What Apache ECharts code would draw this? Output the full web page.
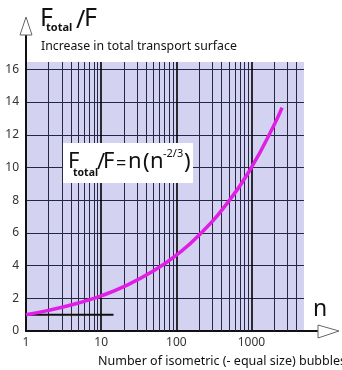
<!DOCTYPE html>
<html><head><meta charset="utf-8">
<script src="https://cdn.jsdelivr.net/npm/echarts@6/dist/echarts.min.js"></script>
<style>html,body{margin:0;padding:0;background:#fff}#c{width:342px;height:370px}</style>
</head><body><div id="c"></div>
<script>
// Data
var curveN     = [1, 2, 5, 10, 20, 50, 100, 200, 500, 1000, 2000, 2550];
var curveRatio = [1, 1.26, 1.71, 2.15, 2.71, 3.68, 4.64, 5.85, 7.94, 10, 12.6, 13.66];
var refLineN     = [1, 14.6];
var refLineRatio = [1, 1];
var yTicks = [0, 2, 4, 6, 8, 10, 12, 14, 16];
var xTickLabels = [1, 10, 100, 1000];

var FONT = 'Noto Sans';
var curve = curveN.map(function (n, i) { return [n, curveRatio[i]]; });
var refLine = refLineN.map(function (n, i) { return [n, refLineRatio[i]]; });

// minor vertical grid lines (2..9 per decade)
var minor = [];
for (var d = 1; d <= 1000; d *= 10) {
  for (var k = 2; k <= 9; k++) { if (k * d < 5000) minor.push({ xAxis: k * d }); }
}

function txt(x, y, s, font, z) {
  return { type: 'text', z: z || 10, style: { x: x, y: y, text: s, font: font, fill: '#111', verticalAlign: 'middle', align: 'left' } };
}
var BIG = '22px "' + FONT + '"';

var chart = echarts.init(document.getElementById('c'));
chart.setOption({
  animation: false,
  grid: { left: 26, right: 38, top: 62, bottom: 39, show: true, backgroundColor: '#d3d3f1', borderWidth: 0 },
  xAxis: {
    type: 'log', logBase: 10, min: 1, max: 5000,
    axisLine: { show: true, lineStyle: { color: '#111', width: 2 } },
    axisTick: { show: false },
    axisLabel: { show: true, color: '#333', fontSize: 12, fontFamily: FONT, margin: 6,
      showMaxLabel: false,
      formatter: function (v) { return xTickLabels.indexOf(Math.round(v)) >= 0 ? String(Math.round(v)) : ''; } },
    splitLine: { show: true, showMaxLine: false, lineStyle: { color: '#000', width: 1.6 } }
  },
  yAxis: {
    type: 'value', min: 0, max: 16.45, interval: 2,
    axisLine: { show: true, lineStyle: { color: '#111', width: 2 } },
    axisTick: { show: false },
    axisLabel: { color: '#333', fontSize: 12, fontFamily: FONT, margin: 7, showMaxLabel: false,
      formatter: function (v) { return yTicks.indexOf(v) >= 0 ? String(v) : ''; } },
    splitLine: { show: true, showMaxLine: false, lineStyle: { color: '#262646', width: 1 } }
  },
  series: [
    {
      type: 'line', data: refLine, symbol: 'none', z: 3,
      lineStyle: { color: '#111', width: 2 },
      markLine: { silent: true, symbol: ['none', 'none'], label: { show: false },
        lineStyle: { color: '#262646', width: 1, type: 'solid' }, data: minor, z: 1 }
    },
    {
      type: 'line', data: curve, symbol: 'none', smooth: true, z: 5,
      lineStyle: { color: '#e01ee6', width: 3.5 }
    }
  ],
  graphic: [
    // axis extensions and open arrows
    { type: 'line', shape: { x1: 26, y1: 62, x2: 26, y2: 35 }, style: { stroke: '#111', lineWidth: 2 } },
    { type: 'polygon', shape: { points: [[26, 17], [20, 35], [32, 35]] }, style: { fill: '#fff', stroke: '#666', lineWidth: 1 } },
    { type: 'line', shape: { x1: 304, y1: 331, x2: 318, y2: 331 }, style: { stroke: '#111', lineWidth: 2 } },
    { type: 'polygon', shape: { points: [[339, 331], [318, 325], [318, 338]] }, style: { fill: '#fff', stroke: '#666', lineWidth: 1 } },
    // y title
    txt(40, 19, 'F', '25px "' + FONT + '"'),
    txt(46, 28, 'total', 'bold 11px "' + FONT + '"'),
    txt(76, 21, '/', '25px "' + FONT + '"'),
    txt(84, 19, 'F', '25px "' + FONT + '"'),
    txt(41, 46, 'Increase in total transport surface', '12.3px "' + FONT + '"'),
    // x title
    txt(313, 309, 'n', '23px "' + FONT + '"'),
    txt(98, 361, 'Number of isometric (- equal size) bubbles', '12.5px "' + FONT + '"'),
    // formula box
    { type: 'rect', shape: { x: 63, y: 143, width: 130, height: 40 }, style: { fill: '#fff' }, z: 10 },
    txt(68, 162, 'F', BIG, 11),
    txt(73, 173, 'total', 'bold 10.5px "' + FONT + '"', 11),
    txt(97, 163, '/', BIG, 11),
    txt(103, 162, 'F', BIG, 11),
    txt(116, 164, '=', '18px "' + FONT + '"', 11),
    txt(128, 162, 'n', BIG, 11),
    txt(143, 163, '(', BIG, 11),
    txt(150, 162, 'n', BIG, 11),
    txt(163, 154, '-2/3', '11px "' + FONT + '"', 11),
    txt(184, 163, ')', BIG, 11)
  ]
});
</script></body></html>
